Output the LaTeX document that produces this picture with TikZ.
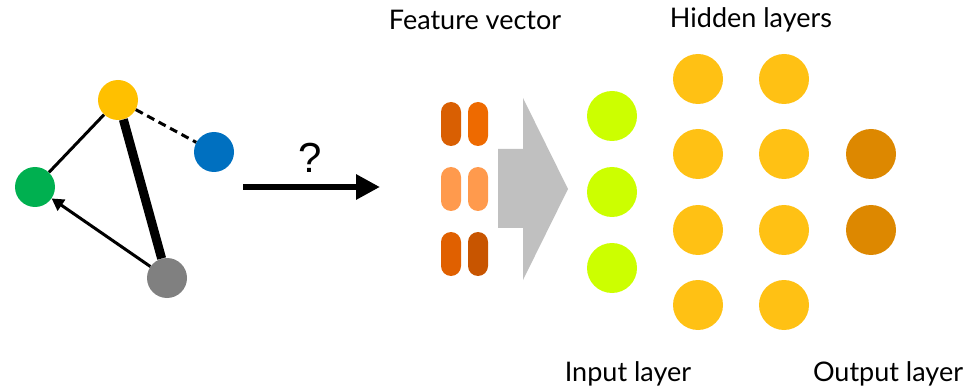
\documentclass[tikz,border=0pt]{standalone}
\usepackage{fontspec}
\setmainfont{Lato}
\newfontfamily\qfont{Liberation Sans}
\usetikzlibrary{arrows.meta}
\definecolor{cyel}{HTML}{FFC000}
\definecolor{cblue}{HTML}{0070C0}
\definecolor{cgreen}{HTML}{00B050}
\definecolor{cgray}{HTML}{808080}
\definecolor{pA}{HTML}{D95F02}
\definecolor{pB}{HTML}{EE6A00}
\definecolor{pC}{HTML}{FF9A4D}
\definecolor{pD}{HTML}{E06000}
\definecolor{pE}{HTML}{C85500}
\definecolor{cin}{HTML}{CCFF00}
\definecolor{chid}{HTML}{FFC114}
\definecolor{cout}{HTML}{DD8800}
\definecolor{carrow}{HTML}{C0C0C0}
\tikzset{
  gnode/.style={circle,inner sep=0pt,minimum size=40pt},
  nnode/.style={circle,inner sep=0pt,minimum size=50pt},
  pill/.style={rectangle,rounded corners=10pt,inner sep=0pt,minimum width=20pt,minimum height=44pt},
  lbl/.style={font=\fontsize{27}{30}\selectfont,inner sep=0pt},
  thinedge/.style={line width=3pt},
}
\begin{document}
\begin{tikzpicture}[x=1pt,y=-1pt]
\useasboundingbox (0,0) rectangle (980,390);
% graph
\node[gnode,fill=cyel] (y) at (118,100) {};
\node[gnode,fill=cblue] (b) at (214,152) {};
\node[gnode,fill=cgreen] (g) at (35,187) {};
\node[gnode,fill=cgray] (k) at (167,278) {};
\draw[thinedge] (y) -- (g);
\draw[thinedge,dash pattern=on 8pt off 5pt] (y) -- (b);
\draw[line width=9pt] (y) -- (k);
\draw[thinedge,-{Triangle[length=12pt,width=13pt]}] (k) -- (g);
% question arrow
\coordinate (qa) at (243,187);
\coordinate (qb) at (380,187);
\draw[line width=6pt,-{Triangle[length=24pt,width=24pt]}] (qa) -- (qb);
\node[font=\qfont\fontsize{42}{44}\selectfont,inner sep=0pt] (q) at (310,157.5) {?};
% feature vector pills
\node[pill,fill=pA] (p11) at (451,124) {};
\node[pill,fill=pB] (p12) at (478,124) {};
\node[pill,fill=pC] (p21) at (451,189) {};
\node[pill,fill=pC] (p22) at (478,189) {};
\node[pill,fill=pD] (p31) at (451,254) {};
\node[pill,fill=pE] (p32) at (478,254) {};
% gray arrow
\fill[carrow] (498,149) -- (523,149) -- (523,98) -- (568,189) -- (523,280) -- (523,228) -- (498,228) -- cycle;
% input layer
\foreach \i/\yy in {1/116,2/192,3/268} \node[nnode,fill=cin] (in\i) at (612,\yy) {};
% hidden layers
\foreach \i/\yy in {1/79,2/154,3/230,4/305} {
  \node[nnode,fill=chid] (ha\i) at (698,\yy) {};
  \node[nnode,fill=chid] (hb\i) at (784,\yy) {};
}
% output
\node[nnode,fill=cout] (o1) at (871,154) {};
\node[nnode,fill=cout] (o2) at (871,230) {};
% labels
\node[lbl] (lf) at (475,20) {Feature vector};
\node[lbl] (lh) at (751,20) {Hidden layers};
\node[lbl] (li) at (628,374) {Input layer};
\node[lbl] (lo) at (888,374) {Output layer};
\end{tikzpicture}
\end{document}
